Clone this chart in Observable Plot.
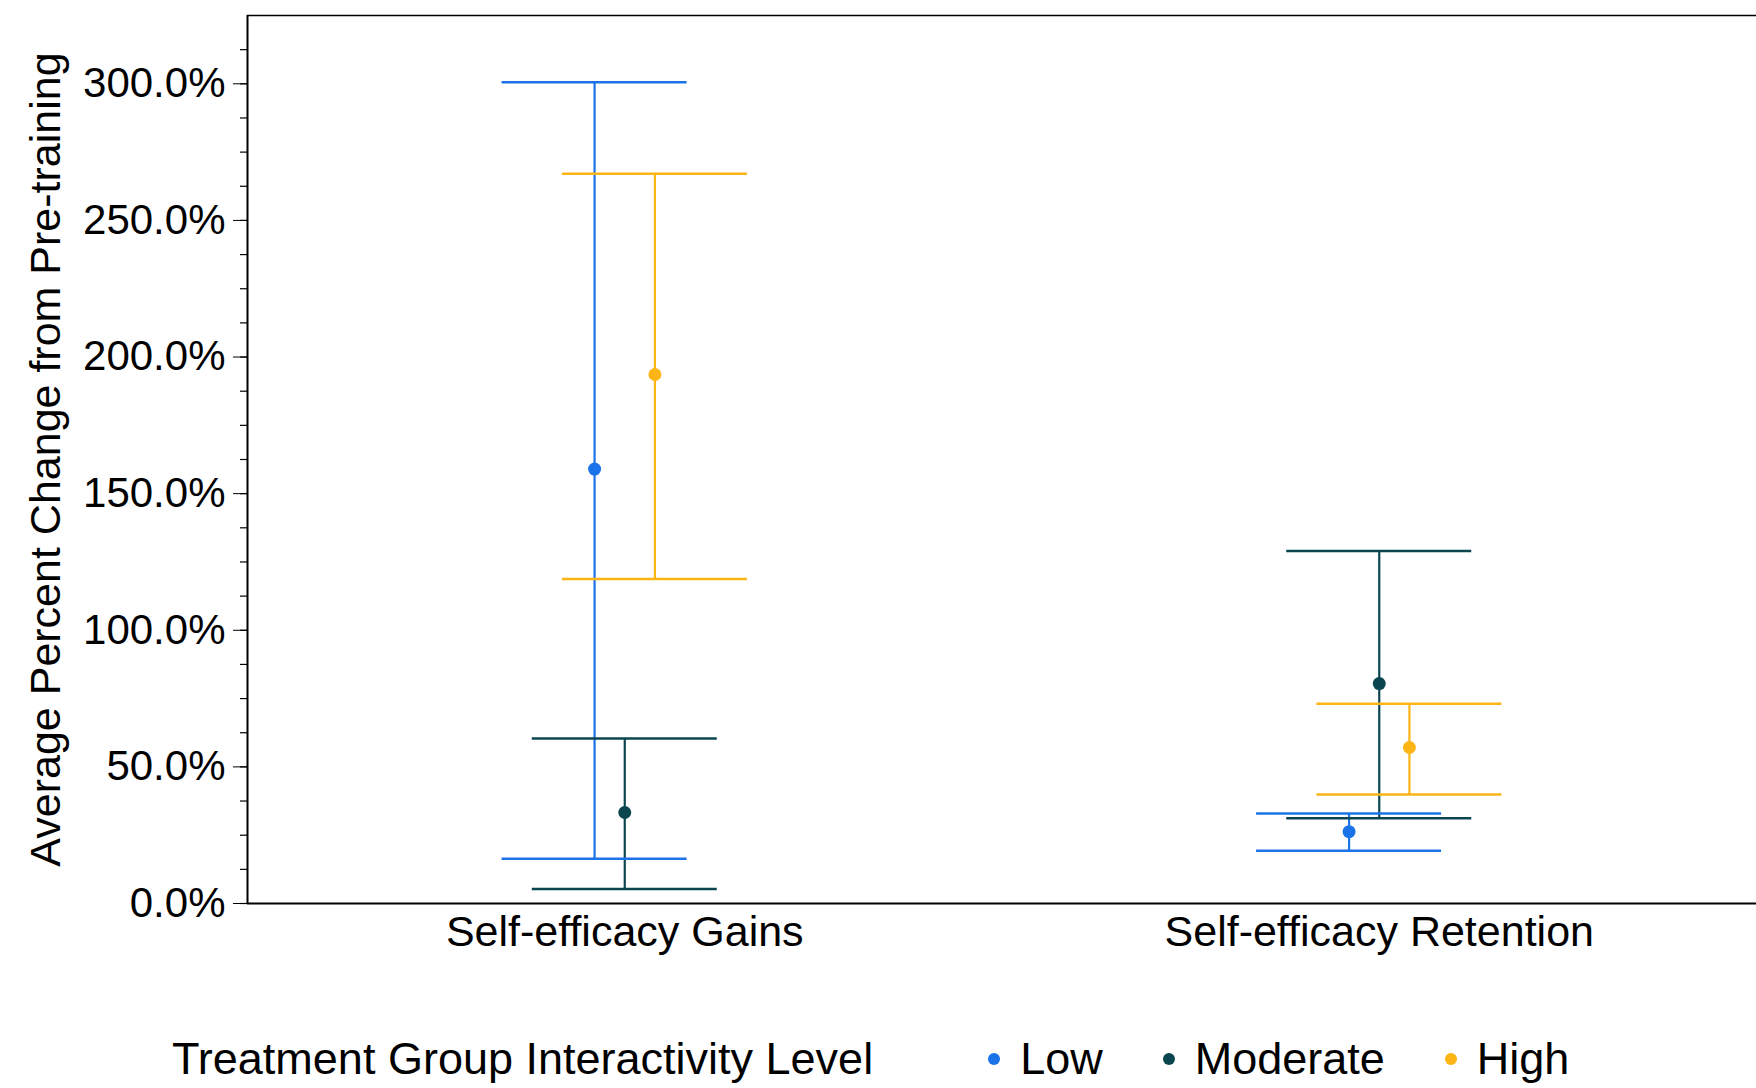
<!DOCTYPE html>
<html>
<head>
<meta charset="utf-8">
<script src="https://cdn.jsdelivr.net/npm/d3@7"></script>
<script src="https://cdn.jsdelivr.net/npm/@observablehq/plot@0.6"></script>
<style>
  html, body { margin: 0; padding: 0; background: #fff; }
  body { width: 1756px; height: 1088px; overflow: hidden; font-family: "Liberation Sans", Arial, sans-serif; }
  #chart svg g[aria-label="x-axis tick label"] text, #chart svg g[aria-label="x-axis tick label"] { font-size: 43px; }
  #legend { display: flex; align-items: center; height: 138px; padding-left: 172px; font-size: 45px; color: #000; }
  #legend .title { margin-right: 115px; }
  #legend .item { display: flex; align-items: center; margin-right: 60px; }
  #legend .dot { width: 12px; height: 12px; border-radius: 50%; margin-right: 20px; }
</style>
</head>
<body>
<div id="chart"></div>
<div id="legend"></div>
<script>
// ---- data ----
const categories = ["Self-efficacy Gains", "Self-efficacy Retention"];
const groups = ["Low", "Moderate", "High"];
const groupColors = ["#1a73e8", "#0b4650", "#fdb515"];

const lowMean = [159.0, 26.3];
const lowLower = [16.4, 19.3];
const lowUpper = [300.6, 32.9];

const moderateMean = [33.3, 80.5];
const moderateLower = [5.3, 31.2];
const moderateUpper = [60.4, 129.0];

const highMean = [193.6, 57.1];
const highLower = [118.8, 39.9];
const highUpper = [267.1, 73.1];

const yTicks = [0, 50, 100, 150, 200, 250, 300];
const yMinorTicks = d3.range(0, 325, 12.5);
const yLabel = "Average Percent Change from Pre-training";
const legendTitle = "Treatment Group Interactivity Level";

// ---- table ----
const series = {
  Low: [lowMean, lowLower, lowUpper],
  Moderate: [moderateMean, moderateLower, moderateUpper],
  High: [highMean, highLower, highUpper]
};
const rows = categories.flatMap((cat, ci) =>
  groups.map(g => ({
    category: cat, ci, group: g,
    mean: series[g][0][ci], lower: series[g][1][ci], upper: series[g][2][ci]
  }))
);

// layout / style
const dodge = {Low: -0.04, Moderate: 0, High: 0.04};
const capHalf = 0.1226;
const xPos = d => d.ci + dodge[d.group];
const xDomain = [-0.5, 1.5];
const yDomain = [0, 325];

const chart = Plot.plot({
  width: 1756,
  height: 990,
  marginTop: 15,
  marginLeft: 247,
  marginRight: 0,
  marginBottom: 87,
  style: {fontFamily: "'Liberation Sans', Arial, sans-serif", fontSize: "42px", color: "#000", background: "#fff"},
  x: {
    domain: xDomain,
    ticks: [0, 1],
    tickFormat: i => categories[i],
    tickSize: 0,
    tickPadding: 12,
    label: null
  },
  y: {
    domain: yDomain,
    ticks: yTicks,
    tickFormat: d => d.toFixed(1) + "%",
    tickSize: 14,
    tickPadding: 8,
    label: null
  },
  color: {domain: groups, range: groupColors},
  marks: [
    // y axis title
    Plot.text([yLabel], {text: d => d, frameAnchor: "left", textAnchor: "middle", lineAnchor: "middle", rotate: -90, dx: -201, fontSize: 43, fill: "#000"}),
    // minor ticks
    Plot.ruleY(yMinorTicks, {y: d => d, x1: xDomain[0], x2: xDomain[0], insetLeft: -7, stroke: "#000", strokeWidth: 1.2}),
    // frame lines
    Plot.ruleY([yDomain[1]], {stroke: "#000", strokeWidth: 1.5}),
    Plot.ruleX([xDomain[0]], {stroke: "#000", strokeWidth: 2}),
    Plot.ruleY([0], {stroke: "#000", strokeWidth: 2}),
    // error bars
    Plot.ruleX(rows, {x: xPos, y1: "lower", y2: "upper", stroke: "group", strokeWidth: 2.2}),
    Plot.ruleY(rows, {y: "upper", x1: d => xPos(d) - capHalf, x2: d => xPos(d) + capHalf, stroke: "group", strokeWidth: 2.5}),
    Plot.ruleY(rows, {y: "lower", x1: d => xPos(d) - capHalf, x2: d => xPos(d) + capHalf, stroke: "group", strokeWidth: 2.5}),
    Plot.dot(rows, {x: xPos, y: "mean", fill: "group", r: 6.5})
  ]
});
document.getElementById("chart").appendChild(chart);

// legend built from the plot's color scale
const color = chart.scale("color");
const legend = document.getElementById("legend");
const t = document.createElement("span");
t.className = "title";
t.textContent = legendTitle;
legend.appendChild(t);
groups.forEach(g => {
  const item = document.createElement("span");
  item.className = "item";
  const dot = document.createElement("span");
  dot.className = "dot";
  dot.style.background = color.apply(g);
  const lab = document.createElement("span");
  lab.textContent = g;
  item.appendChild(dot);
  item.appendChild(lab);
  legend.appendChild(item);
});
</script>
</body>
</html>
